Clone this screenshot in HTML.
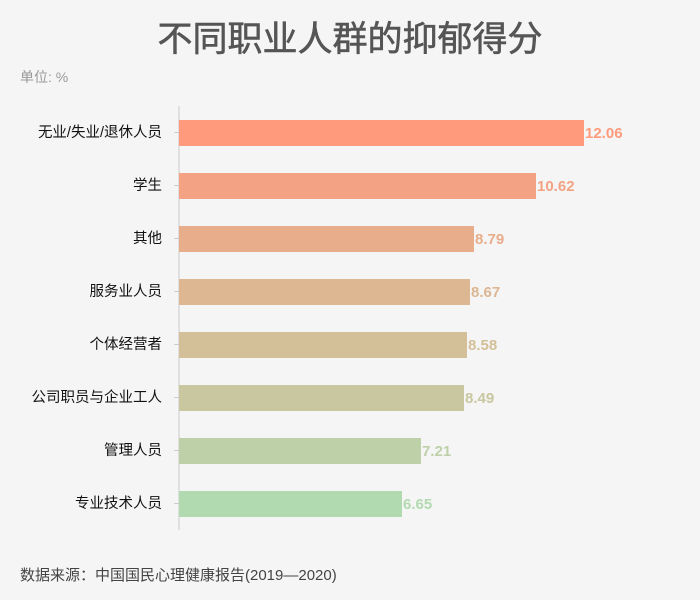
<!DOCTYPE html>
<html><head><meta charset="utf-8"><style>
html,body{margin:0;padding:0;background:#f5f5f5;}
svg{display:block;font-family:"Liberation Sans","Noto Sans CJK SC",sans-serif;}
</style></head><body>
<svg width="700" height="600" viewBox="0 0 700 600">
<rect width="700" height="600" fill="#f5f5f5"/>
<text x="350" y="51" text-anchor="middle" font-size="35" fill="#555" stroke="#555" stroke-width="0.6">不同职业人群的抑郁得分</text>
<text x="20" y="82" font-size="14" fill="#999">单位: %</text>
<line x1="179" y1="106" x2="179" y2="530" stroke="#ccc" stroke-width="1"/>
<g font-size="14.5" fill="#111" text-anchor="end">
<text x="162" y="137">无业/失业/退休人员</text>
<text x="162" y="190">学生</text>
<text x="162" y="243">其他</text>
<text x="162" y="296">服务业人员</text>
<text x="162" y="349">个体经营者</text>
<text x="162" y="402">公司职员与企业工人</text>
<text x="162" y="455">管理人员</text>
<text x="162" y="508">专业技术人员</text>
</g>
<g stroke="#ccc"><line x1="174" y1="132.5" x2="179" y2="132.5"/><line x1="174" y1="185.5" x2="179" y2="185.5"/><line x1="174" y1="238.5" x2="179" y2="238.5"/><line x1="174" y1="291.5" x2="179" y2="291.5"/><line x1="174" y1="344.5" x2="179" y2="344.5"/><line x1="174" y1="397.5" x2="179" y2="397.5"/><line x1="174" y1="450.5" x2="179" y2="450.5"/><line x1="174" y1="503.5" x2="179" y2="503.5"/></g>
<g>
<rect x="179" y="120" width="405" height="26" fill="#ff9a7c"/>
<rect x="179" y="173" width="357" height="26" fill="#f3a383"/>
<rect x="179" y="226" width="295" height="26" fill="#e8ad8b"/>
<rect x="179" y="279" width="291" height="26" fill="#ddb692"/>
<rect x="179" y="332" width="288" height="26" fill="#d3bf98"/>
<rect x="179" y="385" width="285" height="26" fill="#c8c79f"/>
<rect x="179" y="438" width="242" height="26" fill="#bdd0a8"/>
<rect x="179" y="491" width="223" height="26" fill="#b2dab0"/>
</g>
<g font-size="15" font-weight="bold">
<text x="585" y="138" fill="#ff9a7c">12.06</text>
<text x="537" y="191" fill="#f3a383">10.62</text>
<text x="475" y="244" fill="#e8ad8b">8.79</text>
<text x="471" y="297" fill="#ddb692">8.67</text>
<text x="468" y="350" fill="#d3bf98">8.58</text>
<text x="465" y="403" fill="#c8c79f">8.49</text>
<text x="422" y="456" fill="#bdd0a8">7.21</text>
<text x="403" y="509" fill="#b2dab0">6.65</text>
</g>
<text x="20" y="580" font-size="15" fill="#444">数据来源：中国国民心理健康报告(2019—2020)</text>
</svg>
</body></html>
